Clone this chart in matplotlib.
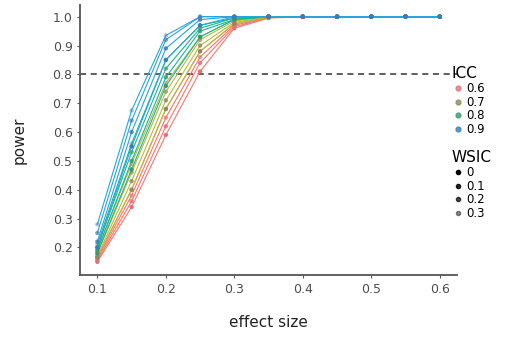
import numpy as np
import matplotlib.pyplot as plt
from matplotlib.lines import Line2D

# effect sizes on the x axis
effect_size = [0.1, 0.15, 0.2, 0.25, 0.3, 0.35, 0.4, 0.45, 0.5, 0.55, 0.6]
icc_levels = ["0.6", "0.7", "0.8", "0.9"]
wsic_levels = ["0", "0.1", "0.2", "0.3"]

# power for each ICC (rows = WSIC 0, 0.1, 0.2, 0.3)
power_icc06 = [
    [0.150, 0.340, 0.590, 0.810, 0.960, 0.995, 1, 1, 1, 1, 1],
    [0.155, 0.360, 0.620, 0.840, 0.965, 0.997, 1, 1, 1, 1, 1],
    [0.160, 0.380, 0.650, 0.860, 0.970, 0.998, 1, 1, 1, 1, 1],
    [0.165, 0.400, 0.680, 0.880, 0.975, 0.999, 1, 1, 1, 1, 1],
]
power_icc07 = [
    [0.165, 0.400, 0.680, 0.880, 0.975, 0.999, 1, 1, 1, 1, 1],
    [0.170, 0.430, 0.710, 0.900, 0.980, 1.000, 1, 1, 1, 1, 1],
    [0.180, 0.460, 0.740, 0.920, 0.985, 1.000, 1, 1, 1, 1, 1],
    [0.190, 0.490, 0.770, 0.930, 0.990, 1.000, 1, 1, 1, 1, 1],
]
power_icc08 = [
    [0.180, 0.470, 0.760, 0.930, 0.990, 1.000, 1, 1, 1, 1, 1],
    [0.190, 0.500, 0.790, 0.950, 0.990, 1.000, 1, 1, 1, 1, 1],
    [0.200, 0.530, 0.820, 0.960, 0.995, 1.000, 1, 1, 1, 1, 1],
    [0.210, 0.560, 0.850, 0.970, 0.995, 1.000, 1, 1, 1, 1, 1],
]
power_icc09 = [
    [0.200, 0.550, 0.850, 0.970, 1.000, 1.000, 1, 1, 1, 1, 1],
    [0.220, 0.600, 0.890, 0.990, 1.000, 1.000, 1, 1, 1, 1, 1],
    [0.250, 0.640, 0.920, 1.000, 1.000, 1.000, 1, 1, 1, 1, 1],
    [0.280, 0.675, 0.935, 1.000, 1.000, 1.000, 1, 1, 1, 1, 1],
]
all_power = [power_icc06, power_icc07, power_icc08, power_icc09]

line_colors = ["#F8766D", "#B9BB3A", "#1DB39A", "#27A6D9"]
point_colors = ["#E0727A", "#8C8C5C", "#3A9A6C", "#3A7EB9"]
wsic_alpha = [1.0, 0.85, 0.7, 0.45]

fig = plt.figure(figsize=(5.21, 3.43), dpi=100)
ax = fig.add_axes([0.154, 0.198, 0.723, 0.787])

for i, icc in enumerate(icc_levels):
    for j, wsic in enumerate(wsic_levels):
        ax.plot(effect_size, all_power[i][j], color=line_colors[i], lw=0.8, zorder=2)
        ax.scatter(effect_size, all_power[i][j], s=10, color=point_colors[i],
                   alpha=wsic_alpha[j], zorder=3, edgecolors="none")

ax.axhline(0.8, color="#333333", ls=(0, (4, 3)), lw=1.1, zorder=1)

ax.set_xlim(0.075, 0.625)
ax.set_ylim(0.104, 1.04)
ax.set_xticks([0.1, 0.2, 0.3, 0.4, 0.5, 0.6])
ax.set_yticks(np.round(np.arange(0.2, 1.01, 0.1), 1))
ax.set_xticklabels(["0.1", "0.2", "0.3", "0.4", "0.5", "0.6"])
ax.set_yticklabels(["0.2", "0.3", "0.4", "0.5", "0.6", "0.7", "0.8", "0.9", "1.0"])
ax.tick_params(length=2, width=0.8, color="#555555", labelcolor="#4D4D4D", labelsize=9)
for s in ["top", "right"]:
    ax.spines[s].set_visible(False)
for s in ["left", "bottom"]:
    ax.spines[s].set_color("#555555")
    ax.spines[s].set_linewidth(1.3)
ax.set_xlabel("effect size", fontsize=11, color="#222222", labelpad=14)
ax.set_ylabel("power", fontsize=11, color="#222222", labelpad=19)

icc_handles = [Line2D([], [], marker="o", ls="none", color=c, markersize=3.5, alpha=0.8)
               for c in point_colors]
leg1 = fig.legend(icc_handles, icc_levels, title="ICC", loc="upper left",
                  bbox_to_anchor=(0.858, 0.82), frameon=False, fontsize=8.5,
                  title_fontsize=11, labelspacing=0.05, handletextpad=0.2,
                  handlelength=1.0, borderaxespad=0)
leg1._legend_box.align = "left"
wsic_handles = [Line2D([], [], marker="o", ls="none", color="black", markersize=3,
                       alpha=a) for a in wsic_alpha]
leg2 = fig.legend(wsic_handles, wsic_levels, title="WSIC", loc="upper left",
                  bbox_to_anchor=(0.858, 0.575), frameon=False, fontsize=8.5,
                  title_fontsize=11, labelspacing=0.05, handletextpad=0.2,
                  handlelength=1.0, borderaxespad=0)
leg2._legend_box.align = "left"

fig.savefig("out.png", dpi=100)
